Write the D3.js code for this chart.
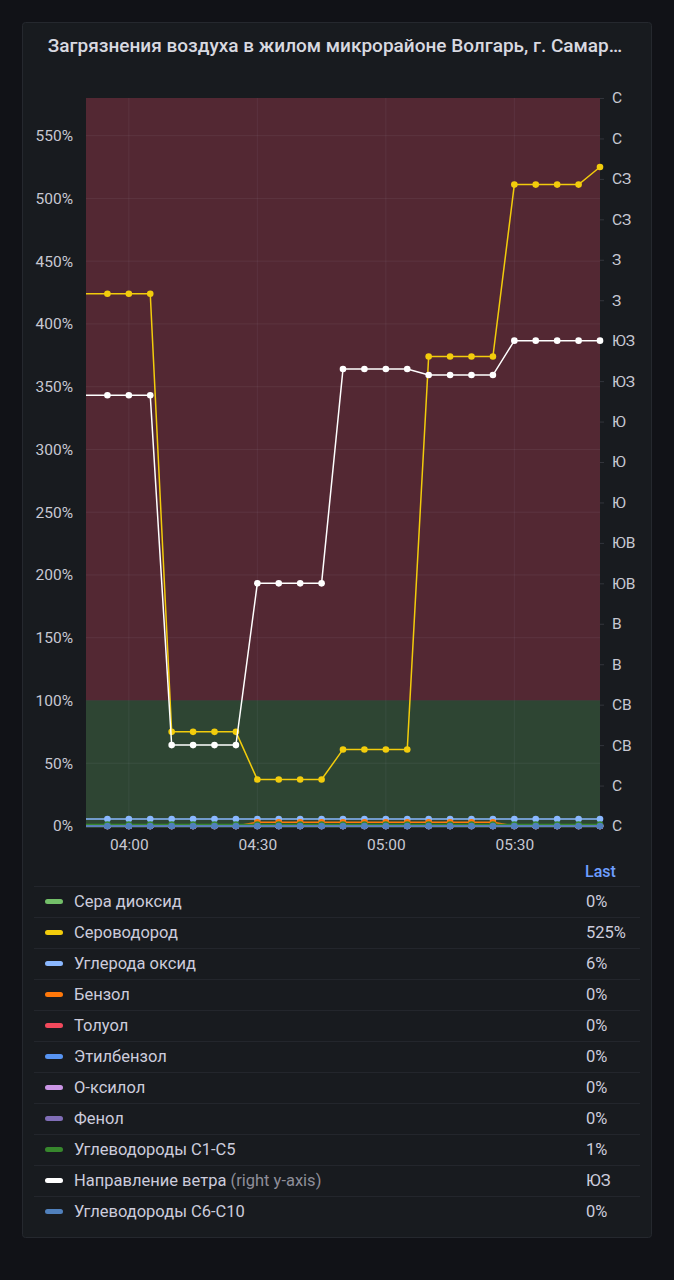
<!DOCTYPE html>
<html>
<head>
<meta charset="utf-8">
<script src="https://cdn.jsdelivr.net/npm/d3@7"></script>
<style>
  html, body { margin: 0; padding: 0; background: #111217; }
  svg { display: block; }
  text { font-family: Roboto, "Noto Sans", sans-serif; }
</style>
</head>
<body>
<svg id="chart" width="674" height="1280"></svg>
<script>
// ---------- data ----------
const title = "Загрязнения воздуха в жилом микрорайоне Волгарь, г. Самар…";
const times = ["03:50","03:55","04:00","04:05","04:10","04:15","04:20","04:25","04:30","04:35","04:40","04:45",
               "04:50","04:55","05:00","05:05","05:10","05:15","05:20","05:25","05:30","05:35","05:40","05:45","05:50"];
const seraDioxid   = [0,0,0,0,0,0,0,0,0,0,0,0,0,0,0,0,0,0,0,0,0,0,0,0,0];
const serovodorod  = [424,424,424,424,75,75,75,75,37,37,37,37,61,61,61,61,374,374,374,374,511,511,511,511,525];
const ugleroda     = [5.6,5.6,5.6,5.6,5.6,5.6,5.6,5.6,5.6,5.6,5.6,5.6,5.6,5.6,5.6,5.6,5.6,5.6,5.6,5.6,5.6,5.6,5.6,5.6,5.6];
const benzol       = [0,0,0,0,0,0,0,0,3,3,3,3,3,3,3,3,3,3,3,3,0,0,0,0,0];
const toluol       = [0,0,0,0,0,0,0,0,0,0,0,0,0,0,0,0,0,0,0,0,0,0,0,0,0];
const etilbenzol   = [0,0,0,0,0,0,0,0,0,0,0,0,0,0,0,0,0,0,0,0,0,0,0,0,0];
const oksilol      = [0,0,0,0,0,0,0,0,0,0,0,0,0,0,0,0,0,0,0,0,0,0,0,0,0];
const fenol        = [0,0,0,0,0,0,0,0,0,0,0,0,0,0,0,0,0,0,0,0,0,0,0,0,0];
const c1c5         = [1.2,1.2,1.2,1.2,1.2,1.2,1.2,1.2,1.2,1.2,1.2,1.2,1.2,1.2,1.2,1.2,1.2,1.2,1.2,1.2,1.2,1.2,1.2,1.2,1.2];
const veter        = [213,213,213,213,40,40,40,40,120,120,120,120,226,226,226,226,223,223,223,223,240,240,240,240,240];
const c6c10        = [0,0,0,0,0,0,0,0,0,0,0,0,0,0,0,0,0,0,0,0,0,0,0,0,0];

const seriesNames  = ["Сера диоксид","Сероводород","Углерода оксид","Бензол","Толуол","Этилбензол",
                      "О-ксилол","Фенол","Углеводороды С1-С5","Направление ветра","Углеводороды С6-С10"];
const seriesValues = [seraDioxid, serovodorod, ugleroda, benzol, toluol, etilbenzol, oksilol, fenol, c1c5, veter, c6c10];
const seriesColors = ["#73BF69","#F2CC0C","#8AB8FF","#FF780A","#F2495C","#5794F2","#CA95E5","#806EB7","#37872D","#FFFFFF","#5080BC"];
const seriesAxis   = ["left","left","left","left","left","left","left","left","left","right","left"];

const leftTicks  = [0,50,100,150,200,250,300,350,400,450,500,550];
const rightTicks = [0,20,40,60,80,100,120,140,160,180,200,220,240,260,280,300,320,340,360];
const directions = ["С","СВ","В","ЮВ","Ю","ЮЗ","З","СЗ"];
const timeTicks  = ["04:00","04:30","05:00","05:30"];
const domainStart = "03:50", domainEnd = "05:50";
const leftMax = 580, rightMax = 360, threshold = 100;

// ---------- setup ----------
const parse = d3.timeParse("%H:%M");
const svg = d3.select("#chart");
const plot = {left: 86, right: 600, top: 98, bottom: 826};

const x  = d3.scaleTime().domain([parse(domainStart), parse(domainEnd)]).range([plot.left, plot.right]);
const yL = d3.scaleLinear().domain([0, leftMax]).range([plot.bottom, plot.top]);
const yR = d3.scaleLinear().domain([0, rightMax]).range([plot.bottom, plot.top]);
const dirName = d => directions[Math.round(d / 45) % 8];

// panel
svg.append("rect").attr("x", 22.5).attr("y", 22.5).attr("width", 629).attr("height", 1215)
  .attr("rx", 3).attr("fill", "#181b1f").attr("stroke", "#25282e");

svg.append("text").attr("x", 335).attr("y", 52).attr("text-anchor", "middle")
  .attr("font-size", 19).attr("font-weight", 500).attr("fill", "#d8d9e0").text(title);

// threshold regions
svg.append("rect").attr("x", plot.left).attr("width", plot.right - plot.left)
  .attr("y", plot.top).attr("height", yL(threshold) - plot.top).attr("fill", "#532833");
svg.append("rect").attr("x", plot.left).attr("width", plot.right - plot.left)
  .attr("y", yL(threshold)).attr("height", yL(0) + 2 - yL(threshold)).attr("fill", "#2e4533");

// grid
const grid = svg.append("g");
grid.selectAll("line.h").data(leftTicks).join("line")
  .attr("x1", plot.left).attr("x2", plot.right)
  .attr("y1", d => yL(d)).attr("y2", d => yL(d))
  .attr("stroke", "rgba(204,204,220,0.08)");
grid.selectAll("line.v").data(timeTicks).join("line")
  .attr("x1", d => x(parse(d))).attr("x2", d => x(parse(d)))
  .attr("y1", plot.top).attr("y2", yL(0) + 2)
  .attr("stroke", "rgba(204,204,220,0.07)");

// axes
const axL = svg.append("g").attr("transform", `translate(${plot.left},0)`)
  .call(d3.axisLeft(yL).tickValues(leftTicks).tickFormat(d => d + "%").tickSize(0).tickPadding(13));
const axR = svg.append("g").attr("transform", `translate(${plot.right},0)`)
  .call(d3.axisRight(yR).tickValues(rightTicks).tickFormat(dirName).tickSize(4).tickPadding(8));
const axB = svg.append("g").attr("transform", `translate(0,${plot.bottom + 2})`)
  .call(d3.axisBottom(x).tickValues(timeTicks.map(parse)).tickFormat(d3.timeFormat("%H:%M")).tickSize(0).tickPadding(11));
[axL, axR, axB].forEach(a => {
  a.select(".domain").remove();
  a.selectAll("text").attr("fill", "#c7c8d2").attr("font-size", 15.5).attr("font-family", "Roboto, sans-serif");
  a.selectAll("line").attr("stroke", "rgba(204,204,220,0.15)");
});

// clip
svg.append("clipPath").attr("id", "clip").append("rect")
  .attr("x", plot.left).attr("y", plot.top - 6).attr("width", plot.right - plot.left + 6).attr("height", plot.bottom - plot.top + 12);

const linesG = svg.append("g").attr("clip-path", "url(#clip)");
const xStart = parse(domainStart);
seriesNames.forEach((name, i) => {
  const ys = seriesAxis[i] === "right" ? yR : yL;
  const pts = times.map((t, j) => ({t: parse(t), v: seriesValues[i][j]}));
  const line = d3.line().x(d => x(d.t)).y(d => ys(d.v));
  const g = linesG.append("g");
  g.append("path").datum(pts).attr("d", line).attr("fill", "none")
    .attr("stroke", seriesColors[i]).attr("stroke-width", 1.5);
  g.selectAll("circle").data(pts.filter(d => d.t > xStart)).join("circle")
    .attr("cx", d => x(d.t)).attr("cy", d => ys(d.v)).attr("r", 3.3)
    .attr("fill", seriesColors[i]);
});

// legend
const legTop = 886, rowH = 31;
svg.append("text").attr("x", 585).attr("y", 877).attr("font-size", 16).attr("font-weight", 500)
  .attr("fill", "#6e9fff").text("Last");
const leg = svg.append("g");
seriesNames.forEach((name, i) => {
  const yTop = legTop + i * rowH;
  leg.append("line").attr("x1", 34).attr("x2", 640).attr("y1", yTop + 0.5).attr("y2", yTop + 0.5)
    .attr("stroke", "#23262c");
  const cy = yTop + rowH / 2;
  leg.append("rect").attr("x", 45).attr("y", cy - 2.5).attr("width", 18).attr("height", 5).attr("rx", 2.5)
    .attr("fill", seriesColors[i]);
  const t = leg.append("text").attr("x", 74).attr("y", cy + 5.5).attr("font-size", 16.5).attr("fill", "#ccccdc");
  t.append("tspan").text(name);
  if (seriesAxis[i] === "right") t.append("tspan").attr("fill", "#8e8e99").text(" (right y-axis)");
  const vals = seriesValues[i];
  const last = vals[vals.length - 1];
  const lastTxt = seriesAxis[i] === "right" ? dirName(last) : Math.round(last) + "%";
  leg.append("text").attr("x", 586).attr("y", cy + 5.5).attr("font-size", 16.5).attr("fill", "#ccccdc").text(lastTxt);
});
</script>
</body>
</html>
